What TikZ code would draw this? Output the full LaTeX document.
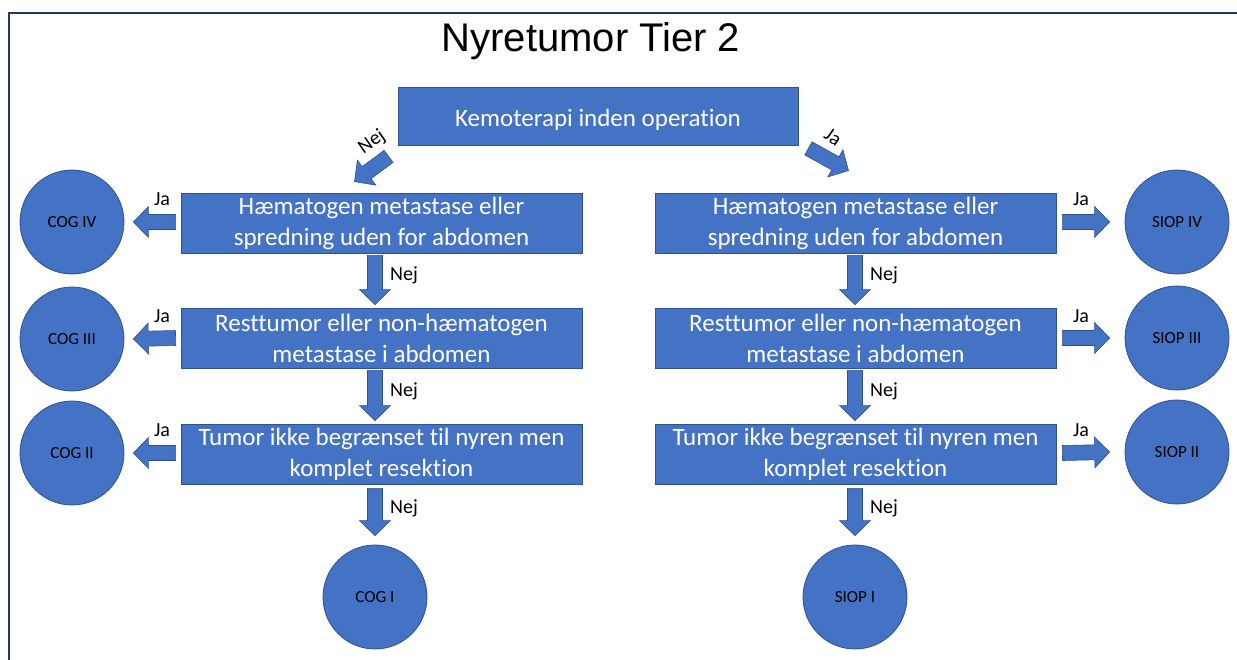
\documentclass[tikz,border=0pt]{standalone}
\usepackage{fontspec}
\setmainfont{Carlito}[Ligatures=NoCommon]
\newfontfamily\titlefont{Liberation Sans}
\usetikzlibrary{calc}
\usetikzlibrary{positioning}

\definecolor{boxblue}{HTML}{4472C4}
\definecolor{edgeblue}{HTML}{2F528F}
\definecolor{framenavy}{HTML}{203864}

\tikzset{
  stagebox/.style={draw=edgeblue,fill=boxblue,line width=0.8,text=white,
    minimum width=401,minimum height=60,inner sep=0,align=center,
    font=\fontsize{25}{31}\selectfont,
    execute at begin node={\rule{0pt}{25pt}}},
  stagecircle/.style={circle,draw=edgeblue,fill=boxblue,line width=0.8,
    minimum size=104,inner sep=0,font=\fontsize{17}{19}\selectfont},
  answer/.style={inner sep=0,font=\fontsize{20}{22}\selectfont},
  barrow/.style={draw=edgeblue,fill=boxblue,line width=0.6},
}

% block arrow from #1 to #2
\newcommand{\blockarrow}[2]{%
  \filldraw[barrow] let \p1=(#1), \p2=(#2),
    \n1={atan2(\y2-\y1,\x2-\x1)}, \n2={veclen(\x2-\x1,\y2-\y1)} in
    ($(\p1)+(\n1+90:7.5pt)$) -- ($(\p1)+(\n1:\n2-15pt)+(\n1+90:7.5pt)$)
    -- ($(\p1)+(\n1:\n2-15pt)+(\n1+90:15.5pt)$) -- (\p2)
    -- ($(\p1)+(\n1:\n2-15pt)+(\n1-90:15.5pt)$)
    -- ($(\p1)+(\n1:\n2-15pt)+(\n1-90:7.5pt)$)
    -- ($(\p1)+(\n1-90:7.5pt)$) -- cycle;}

\begin{document}
\begin{tikzpicture}[x=1pt,y=-1pt]
\useasboundingbox (0,0) rectangle (1237,659);
\draw[framenavy,line width=2] (9,660) -- (9,13) -- (1238,13);

\node[font=\titlefont\fontsize{40}{42}\selectfont] (title) at (591,41) {Nyretumor Tier 2};
\node[stagebox,minimum width=400,minimum height=58] (kemo) at (598,116) {Kemoterapi inden operation};

% left column
\node[stagebox] (l1) at (381.5,223) {Hæmatogen metastase eller\\spredning uden for abdomen};
\node[stagebox] (l2) at (381.5,338) {Resttumor eller non-hæmatogen\\metastase i abdomen};
\node[stagebox] (l3) at (381.5,454) {Tumor ikke begrænset til nyren men\\komplet resektion};
\node[stagecircle] (cog4) at (72,222) {COG IV};
\node[stagecircle] (cog3) at (72,339) {COG III};
\node[stagecircle] (cog2) at (72,453) {COG II};
\node[stagecircle] (cog1) at (375,597) {COG I};

% right column
\node[stagebox] (r1) at (855.5,223) {Hæmatogen metastase eller\\spredning uden for abdomen};
\node[stagebox] (r2) at (855.5,338) {Resttumor eller non-hæmatogen\\metastase i abdomen};
\node[stagebox] (r3) at (855.5,454) {Tumor ikke begrænset til nyren men\\komplet resektion};
\node[stagecircle] (siop4) at (1177,222) {SIOP IV};
\node[stagecircle] (siop3) at (1177,338) {SIOP III};
\node[stagecircle] (siop2) at (1177,452) {SIOP II};
\node[stagecircle] (siop1) at (855,597) {SIOP I};

% arrows
\blockarrow{$(kemo.south west)+(-9,11)$}{$(l1.north)+(-27,-11)$}
\blockarrow{$(kemo.south east)+(10,3)$}{$(r1.north)+(-7,-22)$}

\blockarrow{$(l1.west)+(-5,-1)$}{$(cog4.east)+(9,0)$}
\blockarrow{$(l2.west)+(-5,0)$}{$(cog3.east)+(9,0)$}
\blockarrow{$(l3.west)+(-5,-1)$}{$(cog2.east)+(9,0)$}
\blockarrow{$(r1.east)+(6,-1)$}{$(siop4.west)+(-15,0)$}
\blockarrow{$(r2.east)+(6,0)$}{$(siop3.west)+(-15,0)$}
\blockarrow{$(r3.east)+(6,-1)$}{$(siop2.west)+(-15,0)$}

\blockarrow{$(l1.south -| cog1)+(0,2)$}{$(l2.north -| cog1)+(0,-3)$}
\blockarrow{$(l2.south -| cog1)+(0,2)$}{$(l3.north -| cog1)+(0,-3)$}
\blockarrow{$(l3.south -| cog1)+(0,4)$}{$(cog1.north)+(0,-9)$}
\blockarrow{$(r1.south -| siop1)+(0,2)$}{$(r2.north -| siop1)+(0,-3)$}
\blockarrow{$(r2.south -| siop1)+(0,2)$}{$(r3.north -| siop1)+(0,-3)$}
\blockarrow{$(r3.south -| siop1)+(0,4)$}{$(siop1.north)+(0,-9)$}

% labels
\node[answer,rotate=35] (nej0) at (372,142) {Nej};
\node[answer,rotate=-35] (ja0) at (833,137) {Ja};
\node[answer] (ja1) at (162,199) {Ja};
\node[answer] (ja2) at (162,316) {Ja};
\node[answer] (ja3) at (162,430) {Ja};
\node[answer] (ja4) at (1081,199) {Ja};
\node[answer] (ja5) at (1081,316) {Ja};
\node[answer] (ja6) at (1081,430) {Ja};
\node[answer] (nej1) at (404,275) {Nej};
\node[answer] (nej2) at (404,391) {Nej};
\node[answer] (nej3) at (404,508) {Nej};
\node[answer] (nej4) at (884,275) {Nej};
\node[answer] (nej5) at (884,391) {Nej};
\node[answer] (nej6) at (884,508) {Nej};
\end{tikzpicture}
\end{document}
